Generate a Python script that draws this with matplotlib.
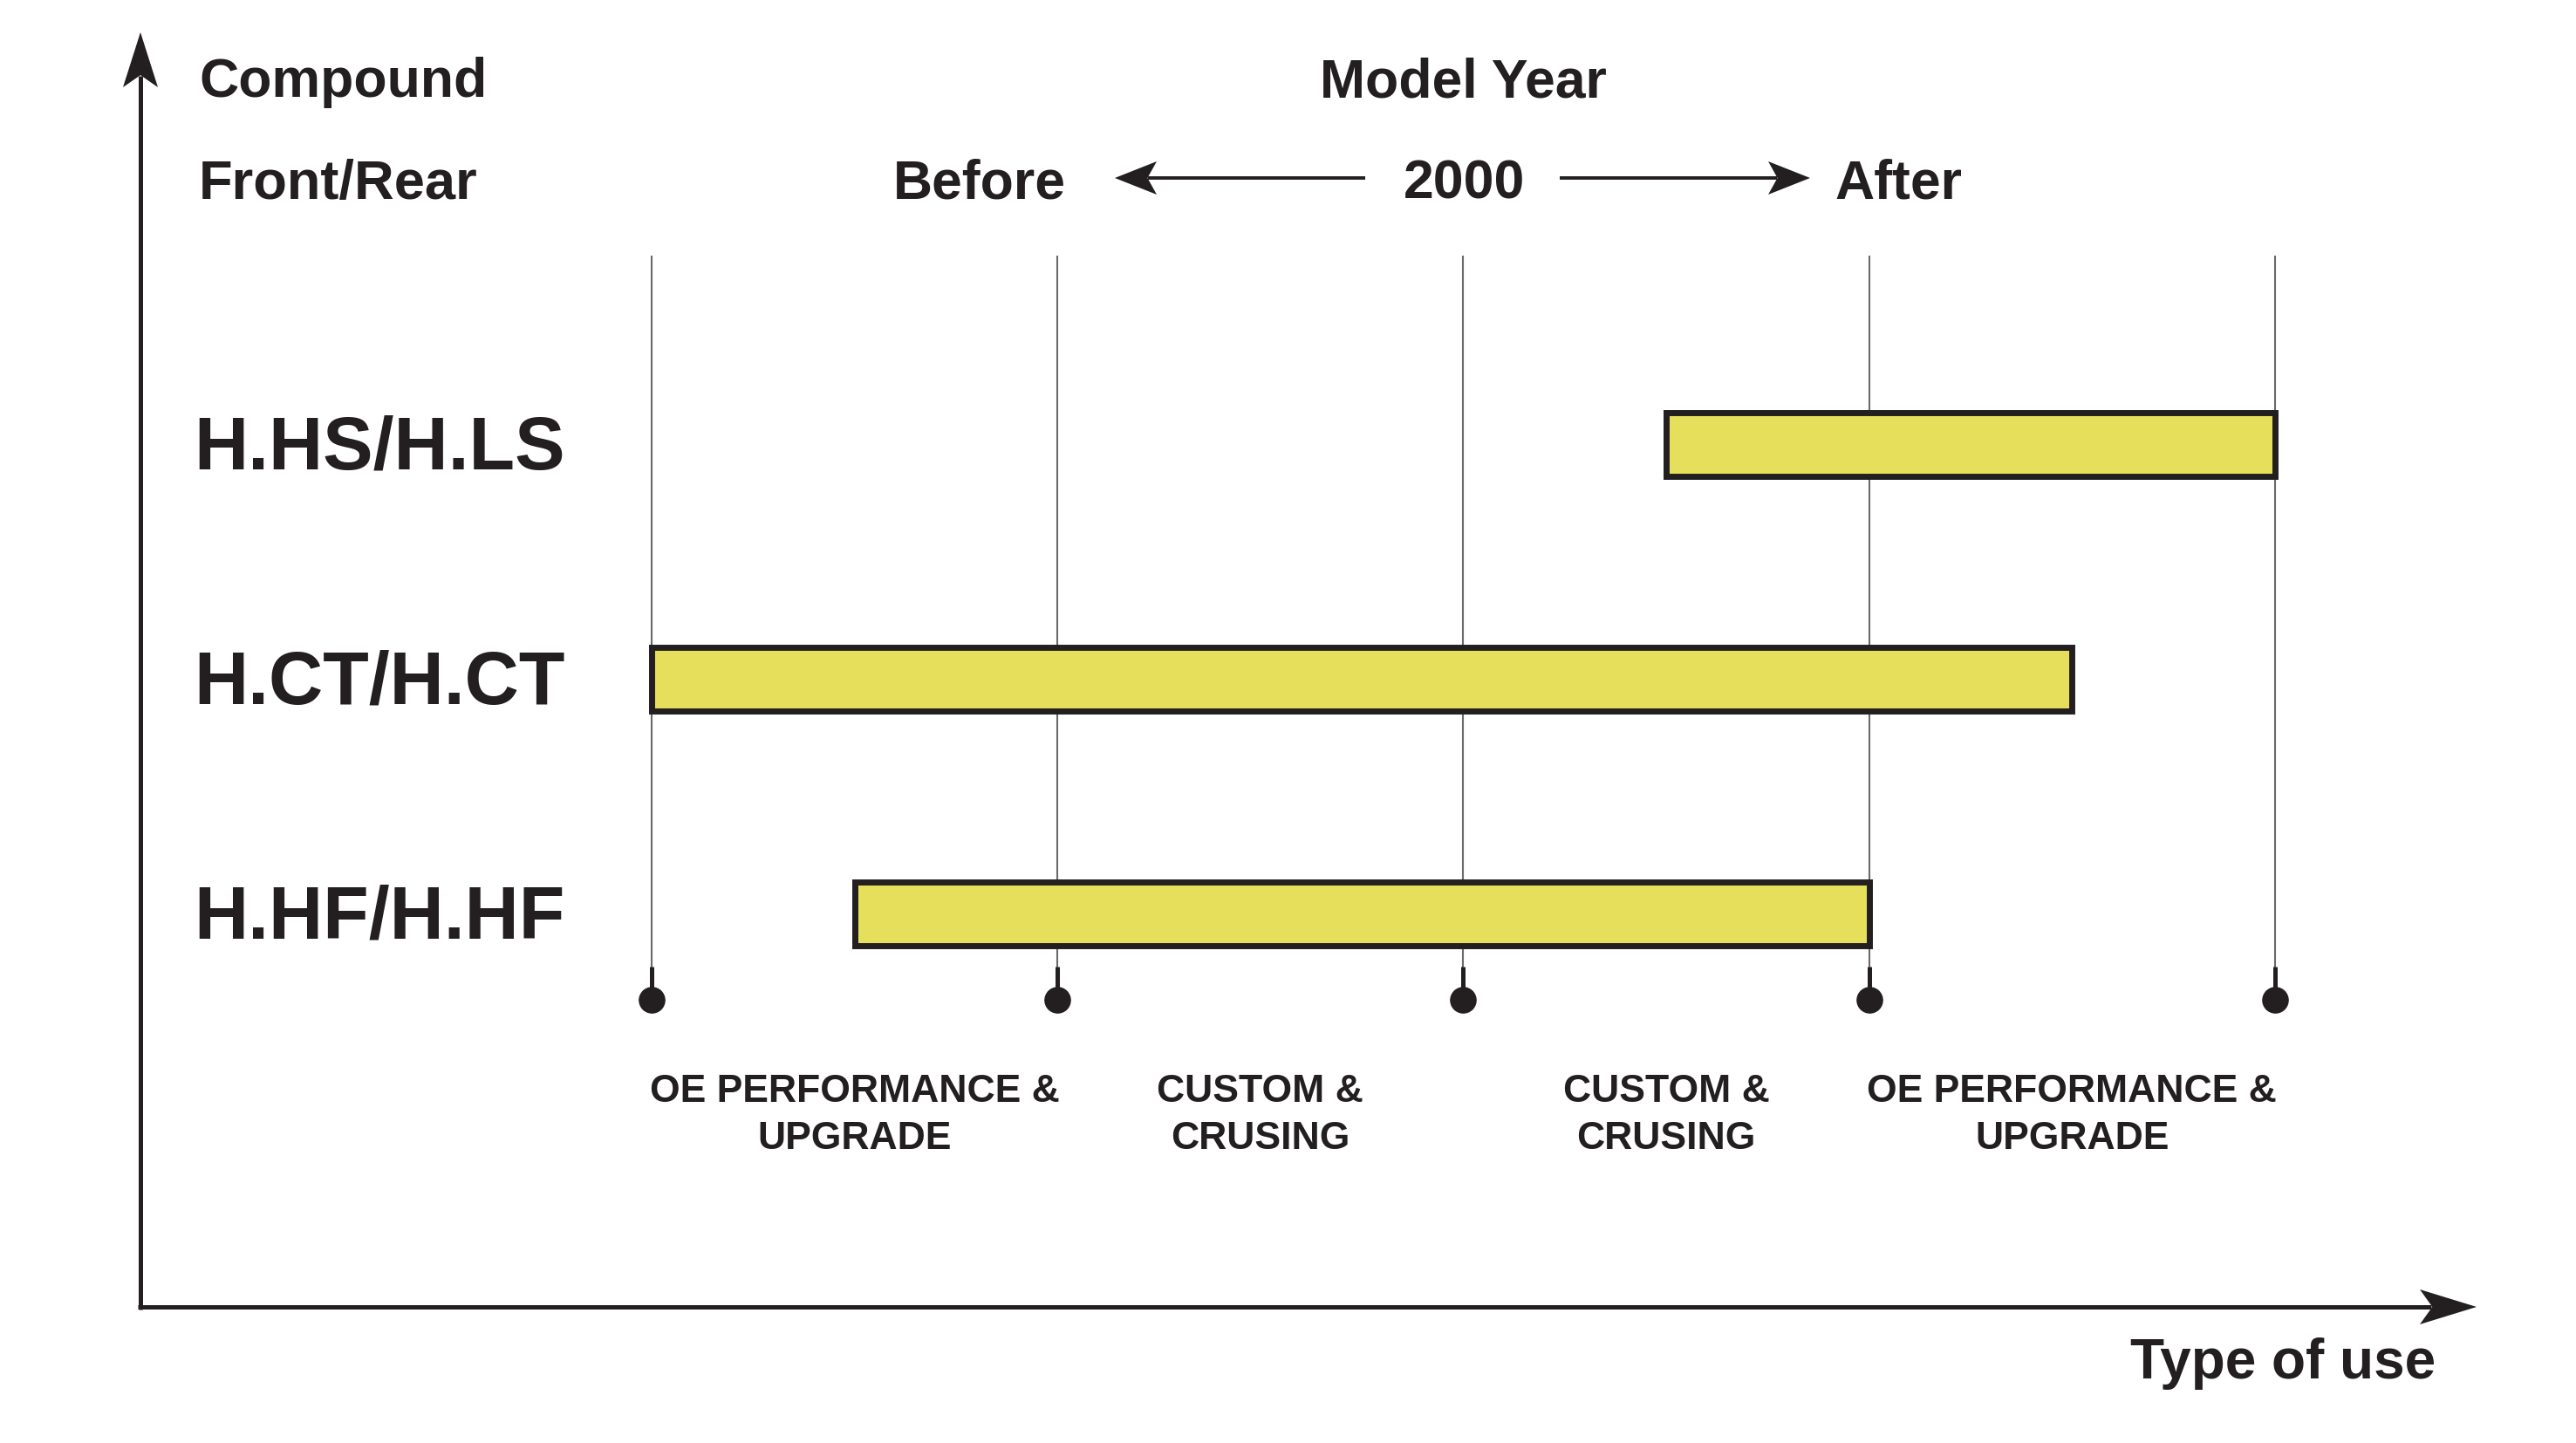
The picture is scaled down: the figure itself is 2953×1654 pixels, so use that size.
import matplotlib
matplotlib.use("Agg")
import matplotlib.pyplot as plt
from matplotlib.transforms import Affine2D
from matplotlib.lines import Line2D
from matplotlib.patches import Polygon
import math

# data
compounds = ["H.HS/H.LS", "H.CT/H.CT", "H.HF/H.HF"]
bar_start = [2.5, 0.0, 0.5]
bar_end = [4.0, 3.5, 3.0]
grid_x = [0, 1, 2, 3, 4]
use_pos = [0.5, 1.5, 2.5, 3.5]
use_line1 = ["OE PERFORMANCE &", "CUSTOM &", "CUSTOM &", "OE PERFORMANCE &"]
use_line2 = ["UPGRADE", "CRUSING", "CRUSING", "UPGRADE"]

INK = "#231f20"
YELLOW = "#e6df5b"
W, H = 2953, 1654

plt.rcParams["font.family"] = ["Liberation Sans", "DejaVu Sans"]
plt.rcParams["font.weight"] = "bold"

fig = plt.figure(figsize=(W / 100, H / 100), dpi=100)
# pixel transform (origin top-left)
pix = Affine2D().scale(1 / 100, -1 / 100).translate(0, H / 100) + fig.dpi_scale_trans

# data axes: x=0..4 at the grid lines, rows 0..2 top to bottom
x0_px, dx_px = 747, 465.25
y0_px, dy_px = 509, 269
ax = fig.add_axes([0, 0, 1, 1])
ax.set_xlim(-x0_px / dx_px, (W - x0_px) / dx_px)
ax.set_ylim((H - y0_px) / dy_px, -y0_px / dy_px)
ax.axis("off")

def py(p):
    return (p - y0_px) / dy_px

# grid lines, stems and dots
ax.vlines(grid_x, py(293), py(1146), color="#6a6a6a", lw=1.5, zorder=1)
ax.vlines(grid_x, py(1108), py(1146), color=INK, lw=3.6, zorder=2)
ax.plot(grid_x, [py(1146)] * len(grid_x), "o", ms=21, color=INK, zorder=3)

# bars
rows = list(range(len(compounds)))
widths = [e - s for s, e in zip(bar_start, bar_end)]
ax.barh(rows, widths, left=bar_start, height=73 / dy_px, color=YELLOW,
        edgecolor=INK, lw=5, zorder=4)

# row labels
for i, name in zip(rows, compounds):
    ax.annotate(name, xy=(222 / W, i), xycoords=("figure fraction", "data"),
                xytext=(0, -20.5), textcoords="offset points",
                ha="left", va="baseline", fontsize=62, color=INK)

# type-of-use labels
for xp, l1, l2 in zip(use_pos, use_line1, use_line2):
    ax.text(xp, py(1263), l1, ha="center", va="baseline", fontsize=32, color=INK)
    ax.text(xp, py(1317), l2, ha="center", va="baseline", fontsize=32, color=INK)

# header texts (pixel positions)
def ptext(x, y, s, size, ha="left"):
    fig.text(x, y, s, transform=pix, ha=ha, va="baseline", fontsize=size, color=INK)

ptext(228, 111, "Compound", 45)
ptext(228, 228, "Front/Rear", 45.5)
ptext(1677, 111, "Model Year", 45, ha="center")
ptext(1222, 227, "Before", 45, ha="right")
ptext(1679, 227, "2000", 45, ha="center")
ptext(2103, 227, "After", 45)
ptext(2792, 1580, "Type of use", 46, ha="right")

# arrows
def arrow(x1, y1, x2, y2, lw, L, Wd):
    ang = math.atan2(y2 - y1, x2 - x1)
    c, s = math.cos(ang), math.sin(ang)
    bx, by = x2 - c * L * 0.8, y2 - s * L * 0.8
    fig.add_artist(Line2D([x1, bx], [y1, by], transform=pix, color=INK, lw=lw,
                          solid_capstyle="butt"))
    def pt(a, b):
        return (x2 + c * a - s * b, y2 + s * a + c * b)
    poly = [pt(0, 0), pt(-L, Wd / 2), pt(-0.78 * L, 0), pt(-L, -Wd / 2)]
    fig.add_artist(Polygon(poly, closed=True, transform=pix, color=INK, lw=0))

arrow(161, 1501, 161, 37, 3.6, 63, 40)
arrow(158, 1498, 2839, 1498, 3.6, 65, 40)
arrow(1565, 204, 1278, 204, 2.8, 48, 38)
arrow(1788, 204, 2075, 204, 2.8, 48, 38)

fig.savefig("out.png", dpi=100, facecolor="white")
